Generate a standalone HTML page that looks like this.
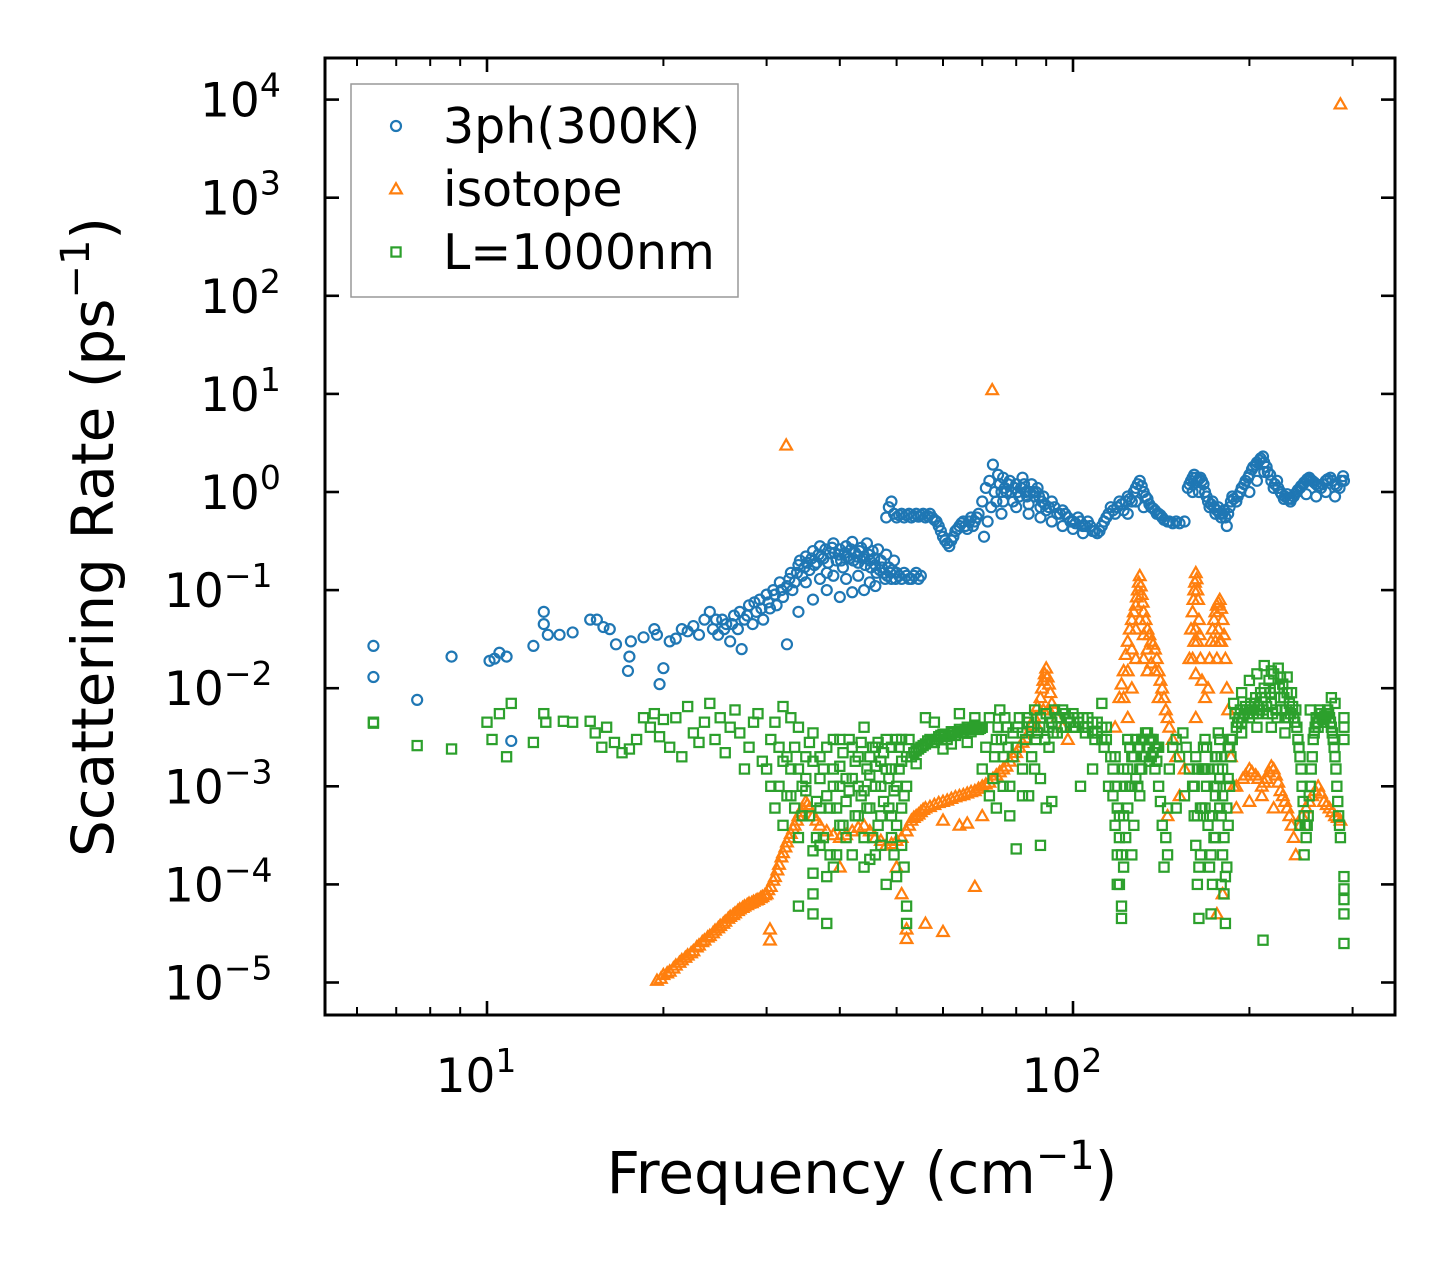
<!DOCTYPE html>
<html><head><meta charset="utf-8"><style>
html,body{margin:0;padding:0;background:#fff;}
svg{display:block;font-family:"DejaVu Sans","Liberation Sans",sans-serif;}
</style></head><body>
<svg id="chart" width="1455" height="1265" viewBox="0 0 1455 1265">
<defs><clipPath id="plotclip"><rect x="325" y="58" width="1070" height="957"/></clipPath></defs>
<rect x="0" y="0" width="1455" height="1265" fill="#fff"/>
<g id="marks" clip-path="url(#plotclip)"></g>
<g id="axes"></g>
<g id="legend"></g>
</svg>
<script>
const xTicks=[10,100];
const xTickExp=["1","2"];
const yTicks=[1e4,1e3,1e2,1e1,1e0,1e-1,1e-2,1e-3,1e-4,1e-5];
const yTickExp=["4","3","2","1","0","\u22121","\u22122","\u22123","\u22124","\u22125"];
const seriesNames=["3ph(300K)","isotope","L=1000nm"];
const blueData=[[6.4,0.027],[6.4,0.013],[7.6,0.0076],[8.7,0.021],[10.1,0.019],[10.3,0.02],[10.5,0.023],[10.8,0.021],[11,0.0029],[12,0.027],[12.5,0.06],[12.5,0.045],[12.7,0.035],[13.3,0.035],[14,0.037],[15,0.05],[15.4,0.05],[15.8,0.042],[16.2,0.04],[16.6,0.028],[17.4,0.015],[17.6,0.03],[17.5,0.021],[18.5,0.033],[19.3,0.04],[19.5,0.035],[19.7,0.011],[20,0.016],[20.5,0.03],[21,0.032],[21.5,0.04],[22,0.038],[22.5,0.043],[23,0.035],
[23.5,0.05],[24,0.06],[24.3,0.04],[24.8,0.035],[25.2,0.05],[25.6,0.045],[26,0.03],[26.4,0.055],[26.8,0.04],[27.2,0.025],[27.5,0.05],[28,0.07],[28.4,0.045],[28.8,0.06],[29.2,0.08],[29.6,0.05],[30,0.09],[30.4,0.065],[30.8,0.1],[31.2,0.07],[31.6,0.12],[32,0.085],[32.5,0.028],[32.5,0.11],[33,0.15],
[24.6,0.05],[25.4,0.04],[26.2,0.045],[27,0.06],[27.8,0.055],[28.6,0.075],[29.4,0.065],[30.2,0.075],[31,0.09],[31.8,0.1],[32.8,0.13],[33.2,0.1],
[33.5,0.12],[34,0.18],[34.5,0.14],[35,0.22],[35.5,0.16],[36,0.25],[36.5,0.19],[37,0.28],[37.5,0.21],[38,0.15],[38.5,0.24],[39,0.3],[39.5,0.2],[40,0.26],[40.5,0.17],[41,0.28],[41.5,0.21],[42,0.31],[42.5,0.24],[43,0.19],[43.5,0.27],[44,0.22],[44.5,0.3],[45,0.2],[45.5,0.25],[46,0.18],[46.5,0.26],[47,0.2],[47.5,0.15],[48,0.23],[48.5,0.17],[49,0.13],[49.5,0.2],[50,0.15],[51,0.13],[52,0.14],[53,0.13],[54,0.15],[55,0.14],[36,0.08],[38,0.1],[40,0.085],[42,0.095],[44,0.1],[46,0.11],[34,0.06],
[33.8,0.15],[34.2,0.2],[34.8,0.17],[35.2,0.19],[35.8,0.21],[36.2,0.18],[36.8,0.23],[37.2,0.22],[37.8,0.26],[38.2,0.19],[38.8,0.27],[39.2,0.24],[39.8,0.23],[40.2,0.2],[40.8,0.24],[41.2,0.22],[41.8,0.26],[42.2,0.2],[42.8,0.22],[43.2,0.25],[43.8,0.21],[44.2,0.18],[44.8,0.23],[45.2,0.17],[45.8,0.21],[46.2,0.15],[46.8,0.16],[47.2,0.17],[47.8,0.13],[48.2,0.14],[48.8,0.15],[49.2,0.16],[49.8,0.13],[50.5,0.14],[51.5,0.15],[52.5,0.13],[53.5,0.14],[54.5,0.13],[35,0.12],[37,0.13],[39,0.14],[41,0.13],[43,0.14],[45,0.12],
[48,0.55],[48.5,0.7],[49,0.8],[49.5,0.6],[50,0.55],[51,0.6],[52,0.58],[53,0.55],[54,0.6],[55,0.58],[56,0.55],[57,0.6],[58,0.52],[59,0.45],[60,0.35],[61,0.3],[62,0.32],[63,0.4],[64,0.45],[65,0.5],[66,0.42],[67,0.55],[68,0.5],[69,0.6],[70,0.8],[70.5,0.35],[71,1.1],[71.5,0.5],[72,1.3],[72.5,0.7],[73,1.9],[73.5,1.0],[74,0.8],[74.5,1.5],[75,1.2],[75.5,0.6],[76,1.4],[77,1.0],[78,1.3],[79,0.8],[80,1.2],[81,0.9],[82,1.4],[83,1.0],[84,0.75],[85,1.2],[86,0.9],[87,1.1],[88,0.7],[89,0.9],[90,0.65],[92,0.8],[94,0.6],[96,0.65],[98,0.55],[100,0.5],[102,0.55],[104,0.45],[106,0.5],[108,0.4],[110,0.38],[112,0.45],[114,0.55],[116,0.7],[118,0.6],[120,0.8],[122,0.65],[124,0.9],[126,0.8],[128,1.1],[130,1.3],[132,1.0],[134,0.85],[136,0.7],[138,0.65],[140,0.6],[142,0.55],[145,0.5],[148,0.48],[155,0.5],[157,1.1],[159,1.3],[161,1.5],[163,1.3],[165,1.4],[167,1.2],[169,0.9],[171,0.7],[173,0.8],[175,0.6],[177,0.7],[179,0.55],[181,0.65],[183,0.45],[185,0.7],[187,0.9],[190,0.8],[193,1.0],[196,1.2],[199,1.4],[202,1.7],[205,1.9],[208,2.1],[211,2.3],[214,1.8],[217,1.5],[220,1.1],[223,1.3],[226,1.0],[229,0.85],[232,0.95],[235,0.8],[238,0.9],[241,1.0],[244,1.1],[247,1.2],[250,1.3],[253,1.4],[256,1.3],[260,1.2],[265,1.1],[270,1.3],[275,1.4],[280,1.2],[285,1.1],[289,1.45],[290,1.3],
[76,0.8],[80,0.7],[84,0.6],[88,0.55],[92,0.5],[96,0.45],[100,0.42],[104,0.38],[124,0.6],[128,0.8],[132,0.7],[160,1.0],[164,1.0],[200,1.0],[206,1.3],[212,1.6],[250,0.95],[260,0.9],[270,1.0],[280,0.9],
[50.5,0.58],[51.5,0.55],[52.5,0.6],[53.5,0.57],[54.5,0.56],[55.5,0.6],[56.5,0.57],[57.5,0.55],[58.5,0.5],[59.5,0.4],[60.5,0.32],[61.5,0.28],[62.5,0.35],[63.5,0.42],[64.5,0.48],[65.5,0.45],[66.5,0.5],[67.5,0.45],[68.5,0.55],
[75.5,1.0],[76.5,1.1],[77.5,1.2],[78.5,1.0],[79.5,1.1],[80.5,1.0],[81.5,1.1],[82.5,1.2],[83.5,0.9],[84.5,1.0],[85.5,1.0],[86.5,1.0],[87.5,0.9],[88.5,0.8],[89.5,0.75],[91,0.7],[93,0.7],[95,0.6],[97,0.6],[99,0.5],[101,0.48],[103,0.5],[105,0.45],[107,0.45],[109,0.4],[111,0.4],[113,0.5],[115,0.6],[117,0.65],[119,0.7],[121,0.75],[123,0.8],[125,0.85],[127,1.0],[129,1.2],[131,1.15],[133,0.9],[135,0.75],[137,0.68],[139,0.6],[141,0.58],[143,0.52],[146,0.5],[150,0.5],[152,0.48],[158,1.2],[160,1.4],[162,1.4],[164,1.35],[166,1.3],[168,1.0],[170,0.8],[172,0.75],[174,0.7],[176,0.65],[178,0.6],[180,0.6],[182,0.55],[184,0.6],[186,0.8],[188,0.85],[191,0.9],[194,1.1],[197,1.3],[200,1.5],[203,1.8],[206,2.0],[209,2.2],[212,2.0],[215,1.6],[218,1.3],[221,1.2],[224,1.1],[227,0.95],[230,0.9],[233,0.85],[236,0.85],[239,0.95],[242,1.05],[245,1.15],[248,1.25],[251,1.35],[254,1.35],[258,1.25],[262,1.15],[267,1.2],[272,1.35],[277,1.3],[282,1.15],[287,1.3]];
const orangeData=[[19.5,1.05e-5],[20,1.2e-5],[20.5,1.3e-5],[21,1.5e-5],[21.5,1.7e-5],[22,1.9e-5],[22.5,2.1e-5],[23,2.4e-5],[23.5,2.7e-5],[24,3e-5],[24.5,3.4e-5],[25,3.8e-5],[25.5,4.2e-5],[26,4.7e-5],[26.5,5.1e-5],[27,5.6e-5],[27.5,6e-5],[28,6.4e-5],[28.5,6.7e-5],[29,7e-5],[29.5,7.5e-5],[30,8e-5],[30.5,9.5e-5],[31,1.2e-4],[31.5,1.6e-4],[32,2.1e-4],[32.5,2.7e-4],[33,3.3e-4],[33.5,4e-4],[34,5e-4],[34.5,6e-4],[35,7e-4],[35.5,6e-4],[36,5e-4],[37,4e-4],[38,3.5e-4],[40,3e-4],[42,3.5e-4],[44,4e-4],[46,3e-4],[48,2.5e-4],[50,2.8e-4],[52,3.5e-4],[53,4.5e-4],[54,5e-4],[55,5.5e-4],[56,6e-4],[58,6.5e-4],[60,7e-4],[62,7.5e-4],[64,8e-4],[66,8.5e-4],[68,9e-4],[70,1e-3],[72,1.1e-3],[74,1.3e-3],[76,1.5e-3],[78,1.8e-3],[80,2.2e-3],[82,2.8e-3],[84,3.5e-3],[86,5e-3],[88,8e-3],[89,1.2e-2],[90,1.6e-2],[91,1.1e-2],[92,7e-3],[94,5e-3],[96,4e-3],[98,3e-3],
[118,4e-3],[120,8e-3],[122,0.015],[124,0.03],[126,0.05],[128,0.07],[129,0.1],[130,0.14],[131,0.09],[132,0.06],[134,0.04],[136,0.03],[138,0.025],[140,0.015],[142,0.01],[144,0.006],[146,0.004],[148,0.003],[150,0.002],[124,5e-3],[126,1e-2],[128,2e-2],[132,2e-2],[134,1.5e-2],
[158,0.02],[160,0.06],[161,0.1],[162,0.15],[163,0.1],[164,0.05],[165,0.02],[168,0.008],[170,0.01],[172,0.03],[174,0.05],[176,0.07],[178,0.08],[180,0.05],[182,0.02],[184,0.006],[186,0.002],[188,0.001],[190,1e-3],[160,0.02],[162,0.04],[176,0.02],[178,0.03],
[195,1.2e-3],[200,1.5e-3],[205,1.3e-3],[210,1e-3],[214,1.2e-3],[218,1.6e-3],[222,1.3e-3],[226,9e-4],[230,7e-4],[234,5e-4],[238,3e-4],[240,2e-4],[244,4e-4],[250,6e-4],[256,8e-4],[262,1e-3],[268,7e-4],[274,6e-4],[280,5e-4],[286,4.5e-4],[200,7e-4],[210,8e-4],[220,6e-4],[190,6e-4],
[32.4,3],[72.8,11],[286,9000],[30.4,2.7e-5],[30.4,3.5e-5],[40,1.5e-4],[52,2.8e-5],[52,3.5e-5],[56,4e-5],[60,3.3e-5],[60,4.5e-4],[64,4e-4],[66,4.2e-4],[68,9.5e-5],[70,5e-4],[176,5e-5],[180,8e-5],[162,5e-3],[162,1.4e-2],[152,8e-4],[155,1.5e-3],[145,5e-4],[50,1.5e-4],[51,8e-5],
[19.8,1.1e-5],[20.3,1.25e-5],[20.8,1.4e-5],[21.3,1.6e-5],[21.8,1.8e-5],[22.3,2e-5],[22.8,2.3e-5],[23.3,2.6e-5],[23.8,2.9e-5],[24.3,3.2e-5],[24.8,3.6e-5],[25.3,4e-5],[25.8,4.5e-5],[26.3,4.9e-5],[26.8,5.4e-5],[27.3,5.8e-5],[27.8,6.2e-5],[28.3,6.5e-5],[28.8,6.9e-5],[29.3,7.3e-5],[29.8,7.8e-5],[30.2,8.8e-5],[30.8,1.1e-4],[31.3,1.4e-4],[31.8,1.9e-4],[32.3,2.4e-4],[32.8,3e-4],[33.3,3.7e-4],[33.8,4.5e-4],[34.3,5.5e-4],[35.2,6.5e-4],[36.5,4.5e-4],[39,3.2e-4],[41,3.2e-4],[43,3.8e-4],[45,3.5e-4],[47,2.8e-4],[49,2.6e-4],[51,3e-4],[52.5,4e-4],[53.5,4.8e-4],[54.5,5.2e-4],[55.5,5.8e-4],[57,6.2e-4],[59,6.8e-4],[61,7.2e-4],[63,7.8e-4],[65,8.2e-4],[67,8.8e-4],[69,9.5e-4],[71,1.05e-3],[73,1.2e-3],[75,1.4e-3],[77,1.6e-3],[79,2e-3],[81,2.5e-3],[83,3.1e-3],[85,4.2e-3],[87,6.5e-3],[88.5,1e-2],[89.5,1.4e-2],[90.5,1.3e-2],[91.5,9e-3],[93,6e-3],[87,4e-3],[89,6e-3],[91,6e-3],
[121,1.1e-2],[123,2.2e-2],[125,4e-2],[127,6e-2],[128.5,8.5e-2],[129.5,1.2e-1],[130.5,1.1e-1],[131.5,7.5e-2],[133,5e-2],[135,3.5e-2],[137,2.8e-2],[139,2e-2],[141,1.2e-2],[143,8e-3],[145,5e-3],[126,2.5e-2],[128,4e-2],[130,5e-2],[132,3.5e-2],[134,2.5e-2],[136,1.8e-2],[138,1.5e-2],[124,1.5e-2],[122,8e-3],[140,8e-3],
[159,0.04],[160.5,0.08],[161.5,0.12],[162.5,0.13],[163.5,0.08],[164.5,0.035],[166,0.012],[171,0.02],[173,0.04],[175,0.06],[177,0.075],[179,0.065],[181,0.035],[183,0.01],[161,0.03],[163,0.03],[175,0.03],[177,0.04],[179,0.03],
[197,1.3e-3],[202,1.4e-3],[207,1.2e-3],[212,1.1e-3],[216,1.4e-3],[220,1.5e-3],[224,1.1e-3],[228,8e-4],[232,6e-4],[236,4e-4],[246,5e-4],[253,7e-4],[259,9e-4],[265,8.5e-4],[271,6.5e-4],[277,5.5e-4],[283,4.8e-4]];
const greenData=[[6.4,4.4e-3],[6.4,4.5e-3],[7.6,2.6e-3],[8.7,2.4e-3],[10,4.5e-3],[10.2,3e-3],[10.5,5.5e-3],[10.8,2e-3],[11,7e-3],[12,2.8e-3],[12.5,5.5e-3],[12.6,4.5e-3],[13.5,4.6e-3],[14,4.5e-3],[15,4.6e-3],[15.3,3.5e-3],[15.7,2.5e-3],[16,4e-3],[16.5,2.8e-3],[17,2.2e-3],[17.5,2.4e-3],[18,3e-3],[18.5,5e-3],[19,4e-3],[19.3,5.5e-3],[19.7,3.2e-3],[20,4.8e-3],[20.5,2.5e-3],[21,5e-3],[21.5,2e-3],[22,6.5e-3],[22.5,3.5e-3],[23,2.8e-3],[23.5,4.5e-3],[24,7e-3],[24.5,3e-3],[25,5e-3],[25.5,2.2e-3],[26,4e-3],[26.5,6e-3],[27,3.5e-3],[27.5,1.5e-3],[28,2.5e-3],[28.5,4.5e-3],[29,5.5e-3],[29.5,1.8e-3],[30,1.5e-3],[30.5,3e-3],[31,4.5e-3],[32,6.5e-3],[32.5,2e-3],[33,5e-3],
[31,6e-4],[31.5,1e-3],[32,4e-4],[32.5,8e-4],[33,1.5e-3],[33.5,6e-4],[34,3e-4],[34.5,1e-3],[35,2e-3],[35.5,5e-4],[36,1.3e-4],[36,8e-5],[36.5,7e-4],[37,1.2e-3],[37.5,3e-4],[38,2.5e-3],[38.5,6e-4],[39,1e-3],[39.5,2e-4],[40,1.6e-3],[40.5,4e-4],[41,7e-4],[41.5,3e-3],[42,1.2e-3],[42.5,5e-4],[43,2e-3],[43.5,8e-4],[44,3e-4],[44.5,1.5e-3],[45,6e-4],[45.5,2.5e-3],[46,1e-3],[46.5,4e-4],[47,1.8e-3],[47.5,7e-4],[48,3e-3],[48.5,1.2e-3],[49,5e-4],[49.5,2e-4],[50,1e-3],[50.5,2.5e-3],[51,6e-4],[51.5,1.5e-4],[52,1e-3],[52.5,3e-3],[34,6e-5],[36,5e-5],[38,4e-5],[40,4e-4],[44,1.5e-4],[46,2e-4],[48,1e-4],[50,1.2e-4],[52,6e-5],[52,4e-5],[34,4e-3],[36,3.5e-3],[40,3e-3],[44,4e-3],[46,2.5e-3],[50,3e-3],[35,1.2e-3],[37,2e-3],[39,1.5e-3],[41,1.2e-3],[43,1e-3],[45,1.3e-3],[47,1e-3],[49,1.5e-3],[51,1.8e-3],
[30.5,1e-3],[31.5,2.5e-3],[32,1.8e-3],[33,8e-4],[33.5,2.5e-3],[34,1.5e-3],[34.5,5e-4],[35,9e-4],[35.5,2.8e-3],[36,1.8e-3],[36.5,3e-4],[37,6e-4],[37.5,1.5e-3],[38,8e-4],[38.5,2e-4],[39,3e-3],[39.5,6e-4],[40,1e-3],[40.5,2.2e-3],[41,3e-4],[41.5,9e-4],[42,2.5e-3],[42.5,1.8e-3],[43,5e-4],[43.5,2.8e-3],[44,9e-4],[44.5,6e-4],[45,2e-3],[45.5,3e-4],[46,1.6e-3],[46.5,2.8e-3],[47,5e-4],[47.5,2.2e-3],[48,1.5e-3],[48.5,6e-4],[49,2.5e-3],[49.5,9e-4],[50,4e-4],[50.5,1.5e-3],[51,3e-3],[51.5,8e-4],[52,2e-3],[37,2.5e-4],[39,1.5e-4],[42,2e-4],[45,1.8e-4],[47,2.5e-4],[49,3e-4],[51,2.5e-4],[38,1.2e-4],[36,2.2e-4],
[53,2e-3],[54,2.3e-3],[55,2.5e-3],[56,2.7e-3],[57,3e-3],[58,2.8e-3],[59,3.2e-3],[60,3.4e-3],[61,3e-3],[62,3.6e-3],[63,3.3e-3],[64,3.8e-3],[65,3.5e-3],[66,4e-3],[67,3.6e-3],[68,4.2e-3],[69,3.8e-3],[70,4e-3],[54,1.7e-3],[56,5e-3],[58,4.5e-3],[60,2.4e-3],[62,2.7e-3],[64,5.5e-3],[66,2.8e-3],[68,5e-3],
[53.5,2.2e-3],[54.5,2.4e-3],[55.5,2.6e-3],[56.5,2.9e-3],[57.5,2.8e-3],[58.5,3e-3],[59.5,3.3e-3],[60.5,3.2e-3],[61.5,3.3e-3],[62.5,3.5e-3],[63.5,3.6e-3],[64.5,3.6e-3],[65.5,3.8e-3],[66.5,3.8e-3],[67.5,3.9e-3],[68.5,4e-3],[69.5,3.9e-3],
[70,1.5e-3],[71,2.5e-3],[72,5e-3],[72,8e-4],[73,1.2e-3],[74,3e-3],[75,6e-3],[76,2e-3],[77,4e-3],[78,1e-3],[78,5e-4],[79,3.5e-3],[80,2.5e-3],[81,5e-3],[82,1.5e-3],[83,3e-3],[84,4.5e-3],[85,2e-3],[86,6e-3],[87,3.5e-3],[88,1.2e-3],[89,4e-3],[90,5.5e-3],[91,2.5e-3],[92,4.5e-3],[93,6e-3],[94,3.5e-3],[95,5e-3],[80,2.3e-4],[84,8e-4],[90,6e-4],[92,7e-4],[88,2.5e-4],
[73.5,2e-3],[74.5,4e-3],[75.5,3e-3],[76.5,5e-3],[77.5,2.5e-3],[79,2e-3],[80.5,4e-3],[82,3.5e-3],[83.5,5e-3],[85,4e-3],[86.5,3e-3],[88,5e-3],[89.5,3e-3],[91,4e-3],[92.5,3.5e-3],[94,5e-3],[95.5,4e-3],[97,5.5e-3],[99,4.5e-3],[100,4e-3],[102,5e-3],[104,4e-3],[106,5e-3],[108,3.5e-3],[110,4.5e-3],[112,3e-3],[114,4e-3],[76,1e-3],[82,8e-4],[86,1.5e-3],[74,6e-4],
[96,6e-3],[98,5e-3],[100,5.5e-3],[102,4.5e-3],[104,5e-3],[106,4e-3],[108,4.5e-3],[110,3.5e-3],[112,4e-3],[114,3e-3],[97,4e-3],[101,4e-3],[105,3.5e-3],[109,3e-3],[113,2.5e-3],[112,7e-3],[108,1.5e-3],[103,1e-3],[115,1e-3],
[116,2e-3],[117,8e-4],[118,4e-4],[119,2e-4],[120,1e-4],[121,6e-5],[122,1.5e-4],[123,3e-4],[124,6e-4],[125,1e-3],[126,2e-3],[127,4e-4],[128,1.2e-3],[129,2.5e-3],[130,1.5e-3],[131,3e-3],[132,2e-3],[133,3.5e-3],[134,2.5e-3],[135,1.8e-3],[136,3e-3],[137,2.2e-3],[138,1.5e-3],[139,2.5e-3],[140,1e-3],[121,4.5e-5],[126,2e-4],[130,8e-4],[118,2e-3],[122,1.5e-3],[124,3e-3],
[117,1.5e-3],[118,1e-3],[119,6e-4],[120,3e-4],[121,2e-4],[122,5e-4],[123,1e-3],[124,1.5e-3],[125,2.5e-3],[126,1e-3],[127,2e-3],[128,3e-3],[129,1e-3],[130,2.5e-3],[131,1.5e-3],[132,3e-3],[133,2e-3],[134,3.5e-3],[135,3e-3],[136,2e-3],[137,3e-3],[138,2.5e-3],[139,1.8e-3],[140,2.5e-3],[120,5e-4],[119,1e-4],
[141,7e-4],[142,4e-4],[143,1.5e-4],[144,3e-4],[145,6e-4],[146,1.5e-3],[148,2.5e-3],[150,3e-3],[152,2e-3],[154,3.5e-3],[156,2.5e-3],[158,1.5e-3],[160,1e-3],[145,2e-4],[150,6e-4],[155,8e-4],
[161,5e-4],[162,2.5e-4],[163,1e-4],[164,4.5e-5],[165,2e-4],[166,6e-4],[167,1.5e-3],[168,3e-3],[169,1e-3],[170,4e-4],[171,1.5e-4],[172,5e-5],[173,1e-4],[174,3e-4],[175,8e-4],[176,2e-3],[177,3.5e-3],[178,1.2e-3],[179,5e-4],[180,2e-4],[181,8e-5],[182,4e-5],[183,1.5e-4],[184,4e-4],[185,1e-3],[186,2e-3],[163,1.5e-3],[168,6e-4],[175,2e-3],[180,1.5e-3],[184,2.5e-3],
[161,1e-3],[162,2e-3],[163,5e-4],[164,1.5e-4],[165,6e-4],[166,1.5e-3],[167,2.5e-3],[168,1.5e-3],[169,2.5e-3],[170,1.5e-3],[171,5e-4],[172,2e-4],[173,5e-4],[174,1e-3],[175,3e-4],[176,1e-3],[177,1.5e-3],[178,3e-3],[179,2e-3],[180,8e-4],[181,3e-4],[182,1.2e-4],[183,6e-4],[184,1.2e-3],[185,2.5e-3],[186,3e-3],[178,6e-4],[179,1e-4],
[187,3e-3],[190,4e-3],[192,5e-3],[194,4.5e-3],[196,5.5e-3],[198,6e-3],[200,5e-3],[202,6e-3],[204,7e-3],[206,5.5e-3],[208,6e-3],[210,8e-3],[212,1e-2],[214,6.5e-3],[216,1.2e-2],[218,7e-3],[220,1.4e-2],[222,6e-3],[224,1.6e-2],[226,8e-3],[228,1.1e-2],[230,5e-3],[232,1.3e-2],[234,7e-3],[236,9e-3],[238,5e-3],[240,6e-3],[188,7e-3],[194,9e-3],[200,1.2e-2],[206,1.4e-2],[212,1.7e-2],[218,1.5e-2],[226,1.3e-2],[232,9e-3],[194,3.5e-3],[206,4e-3],[218,4e-3],[230,3.5e-3],[211,2.7e-5],
[189,5.5e-3],[191,4.5e-3],[193,6e-3],[195,5e-3],[197,6.5e-3],[199,5.5e-3],[201,7e-3],[203,5.5e-3],[205,8e-3],[207,6.5e-3],[209,9e-3],[211,6e-3],[213,8e-3],[215,5.5e-3],[217,9e-3],[219,5.5e-3],[221,1e-2],[223,5e-3],[225,1e-2],[227,6e-3],[229,8e-3],[231,6e-3],[233,5e-3],[235,5.5e-3],[237,6.5e-3],[239,4.5e-3],[241,4e-3],
[242,3e-3],[244,2e-3],[246,1e-3],[248,5e-4],[250,3e-4],[252,5e-4],[254,1e-3],[256,2e-3],[258,3.5e-3],[260,5e-3],[262,4e-3],[264,6e-3],[266,5e-3],[268,4.5e-3],[270,5e-3],[272,6e-3],[274,5e-3],[276,4e-3],[278,3e-3],[280,2e-3],[282,1e-3],[284,5e-4],[286,3e-4],[244,4e-4],[248,2e-4],[280,7e-3],[276,8e-3],[254,6e-3],
[243,2.5e-3],[245,1.5e-3],[247,7e-4],[249,4e-4],[251,4e-4],[253,8e-4],[255,1.5e-3],[257,3e-3],[259,4e-3],[261,4.5e-3],[263,5e-3],[265,5.5e-3],[267,4.8e-3],[269,5.2e-3],[271,5.5e-3],[273,5.5e-3],[275,4.5e-3],[277,3.5e-3],[279,2.5e-3],[281,1.5e-3],[283,7e-4],[285,4e-4],
[290,5e-3],[290,4e-3],[290,3e-3],[290,1.2e-4],[290,9e-5],[290,7e-5],[290,5e-5],[290,2.5e-5]];

const NS="http://www.w3.org/2000/svg";
const PL=325,PR=1395,PT=58,PB=1015;
const X10=487,XDEC=586,Y0=492,YDEC=98.1;
function xs(f){return X10+(Math.log10(f)-1)*XDEC;}
function ys(v){return Y0-Math.log10(v)*YDEC;}
function mk(tag,attrs,parent){const e=document.createElementNS(NS,tag);for(const k in attrs)e.setAttribute(k,attrs[k]);parent.appendChild(e);return e;}
const marks=document.getElementById('marks');
const axes=document.getElementById('axes');
const legend=document.getElementById('legend');
const C=["#1f77b4","#ff7f0e","#2ca02c"];
function circle(cx,cy,par,color){return mk('circle',{cx:cx,cy:cy,r:5,fill:'none',stroke:color,'stroke-width':2.2},par);}
function tri(cx,cy,par,color){const s=5.8;return mk('polygon',{points:`${cx},${cy-s} ${cx-s},${cy+s*0.75} ${cx+s},${cy+s*0.75}`,fill:'none',stroke:color,'stroke-width':2.2},par);}
function sq(cx,cy,par,color){return mk('rect',{x:cx-4.6,y:cy-4.6,width:9.2,height:9.2,fill:'none',stroke:color,'stroke-width':2.2},par);}
const gB=mk('g',{},marks);
const gO=mk('g',{},marks);
const gG=mk('g',{},marks);
blueData.forEach(d=>{const e=circle(xs(d[0]),ys(d[1]),gB,C[0]);

});
orangeData.forEach(d=>{const e=tri(xs(d[0]),ys(d[1]),gO,C[1]);

});
greenData.forEach(d=>{const e=sq(xs(d[0]),ys(d[1]),gG,C[2]);

});

const fr=mk('rect',{x:PL,y:PT,width:PR-PL,height:PB-PT,fill:'none',stroke:'#000','stroke-width':3},axes);


for(let dec=0;dec<=2;dec++){for(let m=1;m<=9;m++){const f=m*Math.pow(10,dec);const x=xs(f);if(x<PL||x>PR)continue;const len=(m===1)?14:8;
const t1=mk('line',{x1:x,x2:x,y1:PB,y2:PB-len,stroke:'#000','stroke-width':(m===1)?2.6:2},axes);


const t2=mk('line',{x1:x,x2:x,y1:PT,y2:PT+len,stroke:'#000','stroke-width':(m===1)?2.6:2},axes);

}}
xTicks.forEach((v,i)=>{const t=mk('text',{x:xs(v)-11,y:1092,'text-anchor':'middle','font-size':47,fill:'#000'},axes);


t.innerHTML='10<tspan font-size="33" dy="-20">'+xTickExp[i]+'</tspan>';});
yTicks.forEach((v,i)=>{const y=ys(v);
const a=mk('line',{x1:PL,x2:PL+14,y1:y,y2:y,stroke:'#000','stroke-width':2.6},axes);


const b=mk('line',{x1:PR,x2:PR-14,y1:y,y2:y,stroke:'#000','stroke-width':2.6},axes);


const neg=yTickExp[i].length>1;
const t=mk('text',{x:neg?164:200,y:y+17,'font-size':47,fill:'#000'},axes);


t.innerHTML='10<tspan font-size="33" dy="-20">'+yTickExp[i]+'</tspan>';});
const xt=mk('text',{x:862,y:1193,'text-anchor':'middle','font-size':58,fill:'#000'},axes);


xt.innerHTML='Frequency (cm<tspan font-size="40" dy="-24">\u22121</tspan><tspan dy="24">)</tspan>';
const yt=mk('text',{x:0,y:0,'text-anchor':'middle','font-size':58,fill:'#000',transform:'translate(113,537) rotate(-90)'},axes);


yt.innerHTML='Scattering Rate (ps<tspan font-size="40" dy="-24">\u22121</tspan><tspan dy="24">)</tspan>';
const lb=mk('rect',{x:351,y:84,width:387,height:213,fill:'#fff',stroke:'#999','stroke-width':1.5},legend);


const ly=[126,189,252];
const shapes=[circle,tri,sq];
seriesNames.forEach((n,i)=>{const g=mk('g',{},legend);


shapes[i](396,ly[i],g,C[i]);
const t=mk('text',{x:443,y:ly[i]+17,'font-size':49,fill:'#000'},g);t.textContent=n;});
</script>
</body></html>
